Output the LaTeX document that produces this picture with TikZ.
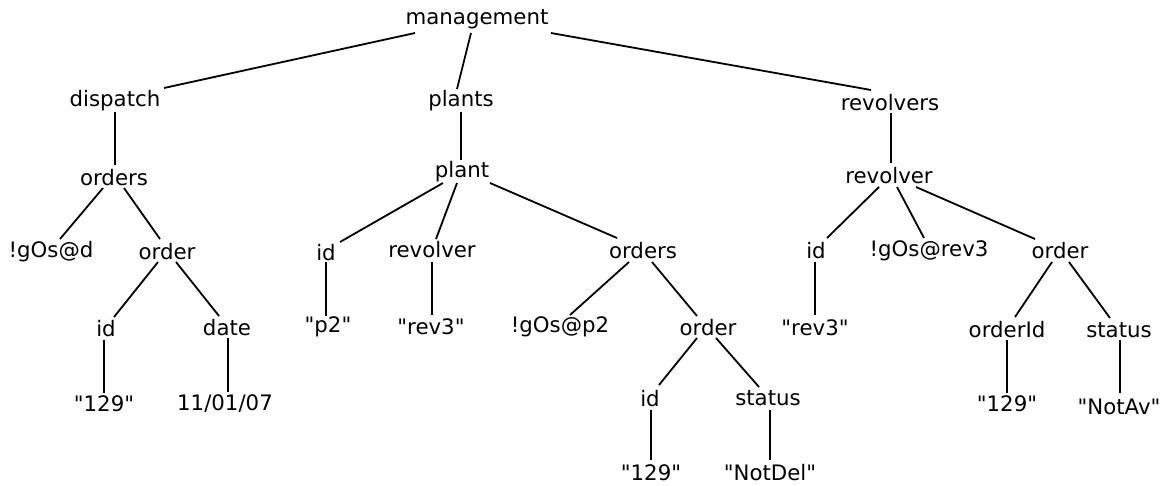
\documentclass[tikz,border=0pt]{standalone}
\usepackage{fontspec}
\setmainfont{DejaVu Sans}
\usetikzlibrary{calc}
\newcommand{\dq}{\textquotedbl}
\begin{document}
\begin{tikzpicture}[x=1pt,y=-1pt,
  lbl/.style={inner sep=0pt,font=\fontsize{21.3}{24}\selectfont},
  edge/.style={line width=1.8pt,line cap=butt}]
\useasboundingbox (0,0) rectangle (1166,485);
% nodes
\node[lbl] (mgmt) at (477,19) {management};
\node[lbl] (disp) at (115,101) {dispatch};
\node[lbl] (plants) at (461,101) {plants};
\node[lbl] (revs) at (890,103) {revolvers};
\node[lbl] (ordL) at (114,178) {orders};
\node[lbl] (gosd) at (51,252) {!gOs@d};
\node[lbl] (orderL) at (167,252) {order};
\node[lbl] (idL) at (106,329) {id};
\node[lbl] (date) at (227,328) {date};
\node[lbl] (qa) at (104,404) {\dq129\dq};
\node[lbl] (dateval) at (225,404) {11/01/07};
\node[lbl] (plant) at (462,172) {plant};
\node[lbl] (idM) at (326,253) {id};
\node[lbl] (revM) at (432,250) {revolver};
\node[lbl] (ordersM) at (643,251) {orders};
\node[lbl] (p2) at (328,327) {\dq p2\dq};
\node[lbl] (rev3M) at (431,327) {\dq rev3\dq};
\node[lbl] (gosp2) at (560,327) {!gOs@p2};
\node[lbl] (orderM) at (708,328) {order};
\node[lbl] (idM2) at (650,399) {id};
\node[lbl] (statusM) at (768,398) {status};
\node[lbl] (qb) at (651,473) {\dq129\dq};
\node[lbl] (notdel) at (770,473) {\dq NotDel\dq};
\node[lbl] (revR) at (889,176) {revolver};
\node[lbl] (idR) at (816,251) {id};
\node[lbl] (gosrev3) at (929,251) {!gOs@rev3};
\node[lbl] (orderR) at (1060,251) {order};
\node[lbl] (rev3R) at (815,328) {\dq rev3\dq};
\node[lbl] (orderId) at (1007,330) {orderId};
\node[lbl] (statusR) at (1119,330) {status};
\node[lbl] (qc) at (1007,404) {\dq129\dq};
\node[lbl] (notav) at (1119,407) {\dq NotAv\dq};
% edges
\draw[edge] ($(mgmt)+(-62,14)$) -- ($(disp)+(49,-13)$);
\draw[edge] ($(mgmt)+(-6,14)$) -- ($(plants)+(-4,-12)$);
\draw[edge] ($(mgmt)+(74,14)$) -- ($(revs)+(-19,-13)$);
\draw[edge] ($(disp)+(0,11)$) -- ($(ordL)+(1,-13)$);
\draw[edge] ($(plants)+(0,11)$) -- ($(plant)+(-1,-12)$);
\draw[edge] ($(revs)+(1,10)$) -- ($(revR)+(2,-13)$);
\draw[edge] ($(ordL)+(-11,10)$) -- ($(gosd)+(9,-13)$);
\draw[edge] ($(ordL)+(10,10)$) -- ($(orderL)+(-7,-13)$);
\draw[edge] ($(orderL)+(-9,10)$) -- ($(idL)+(8,-12)$);
\draw[edge] ($(orderL)+(9,10)$) -- ($(date)+(-8,-12)$);
\draw[edge] ($(idL)+(-2,11)$) -- ($(qa)+(0,-11)$);
\draw[edge] ($(date)+(1,10)$) -- ($(dateval)+(3,-12)$);
\draw[edge] ($(plant)+(-19,11)$) -- ($(idM)+(14,-11)$);
\draw[edge] ($(plant)+(-5,11)$) -- ($(revM)+(4,-11)$);
\draw[edge] ($(plant)+(28,11)$) -- ($(ordersM)+(-26,-13)$);
\draw[edge] ($(idM)+(0,9)$) -- ($(p2)+(-2,-11)$);
\draw[edge] ($(revM)+(0,12)$) -- ($(rev3M)+(1,-12)$);
\draw[edge] ($(ordersM)+(-14,11)$) -- ($(gosp2)+(10,-12)$);
\draw[edge] ($(ordersM)+(9,11)$) -- ($(orderM)+(-11,-12)$);
\draw[edge] ($(orderM)+(-11,10)$) -- ($(idM2)+(9,-14)$);
\draw[edge] ($(orderM)+(8,10)$) -- ($(statusM)+(-9,-11)$);
\draw[edge] ($(idM2)+(1,11)$) -- ($(qb)+(0,-13)$);
\draw[edge] ($(statusM)+(2,12)$) -- ($(notdel)+(0,-13)$);
\draw[edge] ($(revR)+(-10,11)$) -- ($(idR)+(11,-13)$);
\draw[edge] ($(revR)+(8,11)$) -- ($(gosrev3)+(-5,-13)$);
\draw[edge] ($(revR)+(27,11)$) -- ($(orderR)+(-25,-12)$);
\draw[edge] ($(idR)+(-1,11)$) -- ($(rev3R)+(0,-13)$);
\draw[edge] ($(orderR)+(-8,11)$) -- ($(orderId)+(8,-13)$);
\draw[edge] ($(orderR)+(9,11)$) -- ($(statusR)+(-9,-12)$);
\draw[edge] ($(orderId)+(0,10)$) -- ($(qc)+(0,-11)$);
\draw[edge] ($(statusR)+(1,10)$) -- ($(notav)+(1,-14)$);
\end{tikzpicture}
\end{document}
